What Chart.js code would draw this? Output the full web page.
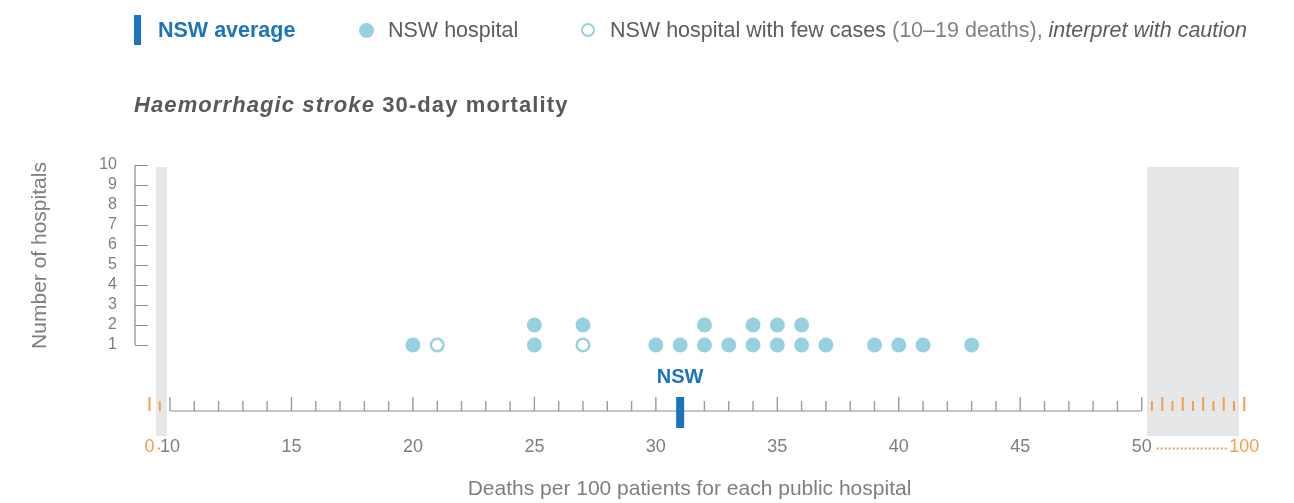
<!DOCTYPE html>
<html>
<head>
<meta charset="utf-8">
<script src="https://cdn.jsdelivr.net/npm/chart.js@4"></script>
<style>
  body { margin: 0; background: #fff; font-family: "Liberation Sans", Arial, sans-serif; }
  #wrap { position: relative; width: 1294px; height: 503px; overflow: hidden; }
  #chart { position: absolute; left: 0; top: 0; }
  .t { position: absolute; top: 18px; line-height: 24px; font-size: 21.5px; color: #5b5c5e; white-space: nowrap; }
  .nsw { color: #1c75bc; font-weight: bold; }
  .lt { color: #808285; }
  .bar { position: absolute; left: 134px; top: 15px; width: 7px; height: 30px; background: #1c75bc; }
  .dot { position: absolute; top: 23px; width: 15px; height: 15px; border-radius: 50%; background: #97d0de; }
  .ring { position: absolute; top: 23px; width: 10px; height: 10px; border-radius: 50%; border: 2.5px solid #97d0de; background: #fff; }
  #title { position: absolute; left: 134px; top: 93px; line-height: 24px; font-size: 22px; letter-spacing: 1.1px; font-weight: bold; color: #58595b; white-space: nowrap; }
</style>
</head>
<body>
<div id="wrap">
  <canvas id="chart" width="1294" height="503"></canvas>
  <span class="bar"></span>
  <span class="t nsw" style="left:158px">NSW average</span>
  <span class="dot" style="left:359px"></span>
  <span class="t" style="left:388px">NSW hospital</span>
  <span class="ring" style="left:581px"></span>
  <span class="t" style="left:610px">NSW hospital with few cases <span class="lt">(10–19 deaths),</span> <i>interpret with caution</i></span>
  <div id="title"><i>Haemorrhagic stroke</i> 30-day mortality</div>
</div>
<script>
  // hospitals, deaths per 100 patients and their stack position
  var hospitalRate = [20, 25, 25, 27, 30, 31, 32, 32, 33, 34, 34, 35, 35, 36, 36, 37, 39, 40, 41, 43];
  var hospitalStack = [1, 1, 2, 2, 1, 1, 1, 2, 1, 1, 2, 1, 2, 1, 2, 1, 1, 1, 1, 1];
  // hospitals with few cases (10-19 deaths)
  var fewCasesRate = [21, 27];
  var fewCasesStack = [1, 1];
  var nswAverage = 31;

  var xTickLabels = [10, 15, 20, 25, 30, 35, 40, 45, 50];
  var yTickLabels = [1, 2, 3, 4, 5, 6, 7, 8, 9, 10];
  var breakLow = [0, 5];          // compressed part left of 10
  var breakHigh = [55, 60, 65, 70, 75, 80, 85, 90, 95, 100]; // compressed part right of 50

  var grey = '#7d7e80';
  var orange = '#f79d4f';
  var blue = '#1c75bc';
  var dotColor = '#97d0de';

  function points(xs, ys) {
      return xs.map(function(x, i) { return {x: x, y: ys[i]}; });
  }

  var axisDecor = {
      id: 'axisDecor',
      beforeDatasetsDraw: function(chart) {
          var ctx = chart.ctx, x = chart.scales.x, y = chart.scales.y;
          var x10 = x.getPixelForValue(10), x50 = x.getPixelForValue(50);
          var top = y.getPixelForValue(9.9), bottom = chart.chartArea.bottom + 25;
          ctx.save();
          ctx.fillStyle = '#e6e7e8';
          ctx.fillRect(x10 - 14, top, 10.7, bottom - top);
          ctx.fillRect(x50 + 5.3, top, 92, bottom - top);
          ctx.restore();
      },
      afterDraw: function(chart) {
          var ctx = chart.ctx, x = chart.scales.x, y = chart.scales.y;
          var base = chart.chartArea.bottom;
          var x10 = x.getPixelForValue(10), x50 = x.getPixelForValue(50);
          var k = 2.05; // px per unit in the compressed parts
          ctx.save();

          // y axis line and ticks
          var yl = chart.chartArea.left;
          ctx.strokeStyle = '#8a8b8d';
          ctx.lineWidth = 1.2;
          ctx.beginPath();
          ctx.moveTo(yl, y.getPixelForValue(10));
          ctx.lineTo(yl, y.getPixelForValue(1));
          yTickLabels.forEach(function(v) {
              var py = Math.round(y.getPixelForValue(v)) + 0.5;
              ctx.moveTo(yl, py);
              ctx.lineTo(yl + 13, py);
          });
          ctx.stroke();

          // x axis line and ticks
          ctx.beginPath();
          ctx.moveTo(x10, base);
          ctx.lineTo(x50, base);
          ctx.stroke();
          ctx.strokeStyle = '#9a9b9d';
          ctx.lineWidth = 1.4;
          ctx.beginPath();
          for (var v = 10; v <= 50; v++) {
              var px = x.getPixelForValue(v);
              ctx.moveTo(px, base);
              ctx.lineTo(px, base - (v % 5 === 0 ? 14 : 10));
          }
          ctx.stroke();

          // compressed ends in orange
          ctx.strokeStyle = orange;
          ctx.lineWidth = 2;
          ctx.beginPath();
          breakLow.forEach(function(v) {
              var px = x10 - (10 - v) * k;
              ctx.moveTo(px, base);
              ctx.lineTo(px, base - (v % 10 === 0 ? 14 : 10));
          });
          breakHigh.forEach(function(v) {
              var px = x50 + (v - 50) * k;
              ctx.moveTo(px, base);
              ctx.lineTo(px, base - (v % 10 === 0 ? 14 : 10));
          });
          ctx.stroke();

          // end labels 0 and 100 with dotted joins
          var ly = base + 36.5;
          ctx.font = '18px "Liberation Sans", Arial, sans-serif';
          ctx.fillStyle = orange;
          ctx.textAlign = 'center';
          ctx.textBaseline = 'middle';
          ctx.fillText('0', x10 - 10 * k, ly);
          ctx.fillText('100', x50 + 50 * k, ly);
          ctx.setLineDash([2, 2]);
          ctx.beginPath();
          ctx.moveTo(x10 - 12, ly + 1);
          ctx.lineTo(x10 - 10, ly + 1);
          ctx.moveTo(x50 + 15, ly + 1);
          ctx.lineTo(x50 + 86, ly + 1);
          ctx.stroke();
          ctx.setLineDash([]);

          // NSW average marker
          var ax = x.getPixelForValue(nswAverage);
          ctx.fillStyle = blue;
          ctx.fillRect(ax - 4, base - 14, 8, 31);
          ctx.font = 'bold 20px "Liberation Sans", Arial, sans-serif';
          ctx.fillText('NSW', ax, base - 34);
          ctx.restore();
      }
  };

  var config = {
      type: 'scatter',
      data: {
          datasets: [{
              label: 'NSW hospital',
              data: points(hospitalRate, hospitalStack),
              pointRadius: 7.5,
              pointBackgroundColor: dotColor,
              pointBorderWidth: 0
          }, {
              label: 'NSW hospital with few cases',
              data: points(fewCasesRate, fewCasesStack),
              pointRadius: 6.3,
              pointBackgroundColor: '#fff',
              pointBorderColor: dotColor,
              pointBorderWidth: 2.4
          }]
      },
      options: {
          responsive: false,
          animation: false,
          layout: { padding: { left: 20, right: 50, top: 100, bottom: 0 } },
          plugins: { legend: { display: false }, tooltip: { enabled: false } },
          scales: {
              x: {
                  type: 'linear',
                  min: 8.559,
                  max: 54.211,
                  grid: { display: false, drawTicks: false },
                  border: { display: false },
                  afterBuildTicks: function(s) { s.ticks = xTickLabels.map(function(v) { return {value: v}; }); },
                  afterFit: function(s) { s.height = 92; },
                  ticks: { color: grey, font: { family: '"Liberation Sans", Arial, sans-serif', size: 18 }, padding: 25.7, autoSkip: false, maxRotation: 0 },
                  title: { display: true, text: 'Deaths per 100 patients for each public hospital', color: grey, font: { family: '"Liberation Sans", Arial, sans-serif', size: 21 }, padding: { top: 0, bottom: 1.5 } }
              },
              y: {
                  min: -2.3,
                  max: 13.25,
                  grid: { display: false, drawTicks: false },
                  border: { display: false },
                  afterBuildTicks: function(s) { s.ticks = yTickLabels.map(function(v) { return {value: v}; }); },
                  afterFit: function(s) { s.width = 115; },
                  ticks: { color: grey, font: { family: '"Liberation Sans", Arial, sans-serif', size: 16 }, padding: 18, autoSkip: false },
                  title: { display: true, text: 'Number of hospitals', color: grey, font: { family: '"Liberation Sans", Arial, sans-serif', size: 21 }, padding: { top: 7.4, bottom: 0 } }
              }
          }
      },
      plugins: [axisDecor]
  };

  var chart = new Chart(document.getElementById('chart'), config);
</script>
</body>
</html>
